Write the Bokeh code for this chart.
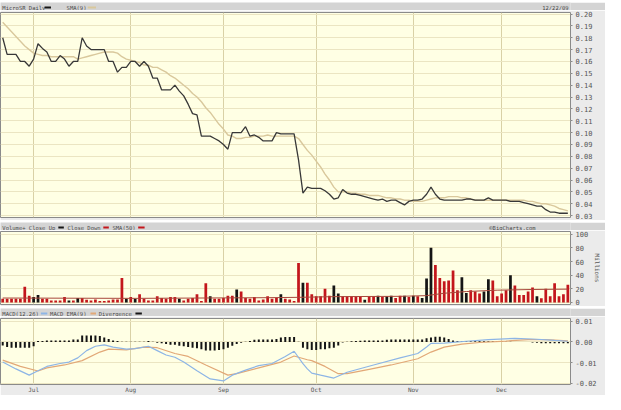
from bokeh.plotting import figure
from bokeh.models import Range1d, FixedTicker, SingleIntervalTicker, NumeralTickFormatter
from bokeh.layouts import column
from bokeh.embed import file_html
from bokeh.resources import INLINE
from bokeh.core.properties import value

# ---------------- data (trading days 22 Jun 2009 .. 22 Dec 2009) ----------------
close = [0.180, 0.166, 0.166, 0.166, 0.160, 0.160, 0.156, 0.162, 0.175, 0.171,
         0.168, 0.160, 0.160, 0.165, 0.162, 0.156, 0.160, 0.160, 0.180, 0.173,
         0.170, 0.170, 0.170, 0.170, 0.160, 0.160, 0.151, 0.155, 0.155, 0.160,
         0.160, 0.156, 0.160, 0.156, 0.146, 0.146, 0.136, 0.136, 0.136, 0.140,
         0.135, 0.131, 0.124, 0.116, 0.115, 0.097, 0.097, 0.097, 0.095, 0.093,
         0.090, 0.086, 0.100, 0.100, 0.100, 0.105, 0.097, 0.098, 0.096, 0.093,
         0.093, 0.093, 0.100, 0.099, 0.099, 0.099, 0.099, 0.077, 0.049, 0.054,
         0.053, 0.053, 0.053, 0.051, 0.048, 0.044, 0.045, 0.052, 0.049, 0.048,
         0.048, 0.047, 0.046, 0.045, 0.044, 0.043, 0.044, 0.042, 0.043, 0.043,
         0.041, 0.039, 0.042, 0.043, 0.043, 0.044, 0.048, 0.054, 0.048, 0.044,
         0.043, 0.043, 0.043, 0.043, 0.043, 0.044, 0.044, 0.043, 0.043, 0.043,
         0.045, 0.043, 0.043, 0.043, 0.043, 0.042, 0.042, 0.042, 0.041, 0.040,
         0.039, 0.038, 0.038, 0.035, 0.033, 0.033, 0.032, 0.032, 0.032]

sma9 = [0.193, 0.189, 0.185, 0.181, 0.177, 0.173, 0.170, 0.167, 0.166, 0.165,
        0.165, 0.164, 0.164, 0.164, 0.164, 0.164, 0.164, 0.162, 0.163, 0.164,
        0.165, 0.166, 0.167, 0.168, 0.168, 0.168, 0.167, 0.164, 0.162, 0.161,
        0.160, 0.159, 0.157, 0.157, 0.155, 0.155, 0.153, 0.151, 0.148, 0.146,
        0.143, 0.140, 0.137, 0.133, 0.130, 0.126, 0.121, 0.117, 0.112, 0.107,
        0.103, 0.098, 0.097, 0.095, 0.095, 0.096, 0.096, 0.097, 0.097, 0.097,
        0.098, 0.097, 0.097, 0.097, 0.097, 0.097, 0.097, 0.095, 0.090, 0.085,
        0.081, 0.076, 0.071, 0.065, 0.060, 0.054, 0.050, 0.050, 0.050, 0.049,
        0.049, 0.048, 0.048, 0.047, 0.047, 0.047, 0.046, 0.045, 0.045, 0.044,
        0.044, 0.043, 0.043, 0.042, 0.042, 0.042, 0.043, 0.044, 0.045, 0.045,
        0.045, 0.046, 0.046, 0.046, 0.045, 0.045, 0.044, 0.043, 0.043, 0.043,
        0.043, 0.043, 0.043, 0.043, 0.043, 0.043, 0.043, 0.043, 0.043, 0.042,
        0.042, 0.041, 0.040, 0.040, 0.039, 0.038, 0.036, 0.035, 0.034]

volume = [5.5, 5.5, 5.5, 5.5, 5.5, 23, 10, 8, 11, 5.5,
          5.5, 3, 3, 3, 8, 3, 3, 6.5, 6.5, 4,
          3, 4.5, 2, 2, 3, 4.5, 4.5, 36, 5.5, 8,
          5.5, 12, 5.5, 3, 3, 9, 6.5, 5.5, 8, 8,
          5.5, 3, 5.5, 6.5, 12, 2, 28, 9, 5.5, 5.5,
          6.5, 10, 10, 19, 16, 6.5, 5.5, 8, 3, 4.5,
          9, 5.5, 6.5, 12, 5.5, 4.5, 2, 58, 29, 29,
          12, 9, 9, 20, 10, 25, 13, 9, 9, 9,
          9, 9, 4, 9, 9, 10, 8, 9, 10, 6.5,
          10, 10, 8, 10, 9, 6.5, 35, 80, 55, 36,
          31, 32, 47, 18, 37, 14, 18, 16, 13, 16,
          34, 32, 9, 13, 18, 40, 25, 11, 11, 16,
          22, 9, 6, 20, 9, 28, 9, 12, 26]

up_days = [7, 8, 15, 17, 28, 30, 40, 47, 53, 63, 68, 75, 76, 82, 85, 87, 88,
           91, 93, 95, 96, 97, 104, 105, 109, 110, 115, 121]

vol_sma_day = [0, 30, 60, 67, 75, 90, 96, 100, 105, 112, 120, 128]
vol_sma50 = [6.5, 6.0, 7.0, 7.5, 8.5, 9.0, 10.0, 13.5, 16.0, 18.0, 19.0, 19.5]

macd_day = [0, 3, 6, 8, 10, 13, 15, 17, 19, 21, 23, 25, 28, 30, 33, 35, 37, 39,
            41, 44, 47, 50, 52, 55, 58, 61, 64, 66, 67, 68, 69, 70, 72, 75, 78,
            84, 90, 94, 96, 97, 100, 105, 110, 116, 120, 125, 128]
macd_line = [-0.0097, -0.0130, -0.0160, -0.0139, -0.0118, -0.0104, -0.0097,
             -0.0077, -0.0042, -0.0021, -0.0014, -0.0025, -0.0035, -0.0032,
             -0.0021, -0.0042, -0.0063, -0.0074, -0.0097, -0.0139, -0.0178,
             -0.0188, -0.0160, -0.0136, -0.0114, -0.0104, -0.0070, -0.0045,
             -0.0075, -0.0105, -0.0130, -0.0150, -0.0160, -0.0174, -0.0146,
             -0.0111, -0.0077, -0.0056, -0.0025, -0.0007, -0.0006, 0.0003,
             0.0011, 0.0017, 0.0014, 0.0007, 0.0003]

signal_day = [0, 4, 8, 10, 14, 18, 22, 24, 28, 32, 35, 39, 42, 46, 51, 53, 58,
              63, 66, 69, 70, 73, 76, 78, 83, 88, 94, 97, 100, 104, 108, 114,
              119, 123, 128]
signal_line = [-0.0088, -0.0118, -0.0140, -0.0125, -0.0111, -0.0090, -0.0049,
               -0.0035, -0.0038, -0.0025, -0.0028, -0.0056, -0.0070, -0.0111,
               -0.0160, -0.0153, -0.0125, -0.0097, -0.0068, -0.0086, -0.0090,
               -0.0118, -0.0153, -0.0153, -0.0132, -0.0111, -0.0081, -0.0049,
               -0.0025, -0.0011, -0.0003, 0.0004, 0.0011, 0.0011, 0.0005]

# divergence in thousandths
divergence = [-1.7, -2.5, -2.8, -2.8, -2.8, -2.8, -2.8, -2.1, 0.4, 0.4,
              0.7, 0.7, 0.7, 0.7, 0.7, 0.7, 1.1, 1.1, 3.1, 3.1,
              3.1, 3.1, 2.8, 2.1, 1.4, 0.7, 0.4, 0.05, 0.05, 0.1,
              0.1, 0.05, 0.1, 0.4, 0.05, -0.4, -0.7, -1.0, -1.4, -1.4,
              -1.8, -2.1, -2.5, -2.8, -3.1, -3.5, -4.2, -4.2, -4.2, -3.9,
              -3.5, -2.8, -1.8, -1.0, -0.4, 0.05, 0.4, 1.0, 1.1, 1.1,
              1.1, 1.1, 1.4, 2.1, 2.4, 2.4, 2.4, 0.05, -2.8, -3.5,
              -3.9, -3.9, -3.5, -3.5, -3.1, -2.8, -1.7, -0.3, 0.05, 0.3,
              0.4, 0.6, 0.7, 0.7, 0.7, 0.7, 0.7, 1.0, 1.1, 1.1,
              1.1, 1.1, 1.1, 1.1, 1.1, 1.1, 1.7, 2.1, 2.5, 2.5,
              2.1, 1.4, 0.7, 0.4, 0.3, 0.3, 0.3, 0.3, 0.3, 0.3,
              0.3, 0.3, 0.3, 0.3, 0.1, 0.1, -0.1, -0.1, -0.1, -0.1,
              -0.3, -0.4, -0.7, -0.7, -0.7, -0.7, -0.7, -0.7, -0.7]

month_starts = [7, 29, 50, 71, 93, 113]
month_labels = ["Jul", "Aug", "Sep", "Oct", "Nov", "Dec"]

# ---------------- style ----------------
MONO = "DejaVu Sans Mono"
BAND = "#d4d4d4"
BORDER = "#ebebeb"
BG = "#ffffe4"
HGRID = "#ebe5c2"
VGRID = "#d9d1a6"
TXT = "#4a4a4a"
RED = "#c3161c"
BLACK = "#151515"
W = 605
FW = 570
RB = 35

days = list(range(len(close)))
xr = Range1d(-0.5, 128.6)


def header(labels, swatches, right=None, right_x=619):
    h = figure(width=W, height=10, x_range=Range1d(0, 621), y_range=Range1d(0, 10),
               x_axis_location=None, y_axis_location=None, toolbar_location=None,
               output_backend="svg", min_border=0, outline_line_color=None,
               background_fill_color=BAND, border_fill_color=BAND)
    h.grid.visible = False
    h.text(x=[l[0] for l in labels], y=[5] * len(labels), text=[l[1] for l in labels],
           text_font=value(MONO), text_font_size="5.5px", text_baseline="middle",
           text_color=TXT)
    for (x0, x1, c) in swatches:
        h.segment(x0=[x0], y0=[5], x1=[x1], y1=[5], line_color=c, line_width=2)
    if right:
        h.text(x=[right_x], y=[5], text=[right], text_font=value(MONO),
               text_font_size="5.5px", text_baseline="middle", text_align="right",
               text_color=TXT)
    return h


def panel(frame_h, yr, top=2, bottom=2, below=False):
    p = figure(frame_width=FW, frame_height=frame_h, x_range=xr, y_range=yr,
               x_axis_location="below" if below else None, y_axis_location="right",
               toolbar_location=None, output_backend="svg",
               min_border_left=0, min_border_right=RB, min_border_top=top,
               min_border_bottom=bottom, background_fill_color=BG,
               border_fill_color=BORDER, outline_line_color="#8a8a8a")
    p.xgrid.ticker = FixedTicker(ticks=month_starts)
    p.xgrid.grid_line_color = VGRID
    p.ygrid.grid_line_color = HGRID
    ax = p.yaxis[0]
    ax.major_label_text_font = MONO
    ax.major_label_text_font_size = "7px"
    ax.major_label_text_color = "#555555"
    ax.major_label_standoff = 3
    ax.axis_line_color = None
    ax.major_tick_in = 0
    ax.major_tick_out = 2
    ax.major_tick_line_color = "#8a8a8a"
    ax.minor_tick_line_color = None
    return p


# header 1 + price
h1 = header([(2, "MicroSR Daily"), (72, "SMA(9)")],
            [(48, 55, BLACK), (95, 104, "#d9c89c")], right="12/22/09")

p1 = panel(205, Range1d(0.0284, 0.2013), top=2, bottom=3)
p1.yaxis[0].ticker = SingleIntervalTicker(interval=0.01, num_minor_ticks=0)
p1.yaxis[0].formatter = NumeralTickFormatter(format="0.00")
p1.line(days, sma9, line_color="#d9c89c", line_width=1.4)
p1.line(days, close, line_color="#383838", line_width=1.3)

# header 2 + volume
h2 = header([(2, "Volume+ Close Up"), (73, "Close Down"), (122, "SMA(50)")],
            [(63, 69, BLACK), (112, 118, RED), (150, 157, RED)],
            right="\u00a9BigCharts.com", right_x=583)

p2 = panel(73, Range1d(-3, 104), top=1, bottom=2)
p2.yaxis[0].ticker = FixedTicker(ticks=[0, 20, 40, 60, 80, 100])
p2.yaxis[0].formatter = NumeralTickFormatter(format="0")
p2.yaxis[0].axis_label = "Millions"
p2.yaxis[0].axis_label_text_font = MONO
p2.yaxis[0].axis_label_text_font_size = "6px"
p2.yaxis[0].axis_label_text_font_style = "normal"
p2.yaxis[0].axis_label_text_color = "#555555"
p2.yaxis[0].axis_label_standoff = 3
up_set = set(up_days)
vol_colors = [BLACK if d in up_set else RED for d in days]
p2.vbar(x=days, top=volume, bottom=0, width=0.62, fill_color=vol_colors,
        line_color=None)
p2.line(vol_sma_day, vol_sma50, line_color="#a8483c", line_width=1)

# header 3 + MACD
h3 = header([(2, "MACD(12,26)"), (54, "MACD EMA(9)"), (107, "Divergence")],
            [(44, 51, "#8db5e6"), (98, 104, "#e2a877"), (147, 154, BLACK)])

p3 = panel(66, Range1d(-0.0205, 0.01125), top=2, bottom=0, below=True)
p3.yaxis[0].ticker = SingleIntervalTicker(interval=0.01, num_minor_ticks=0)
p3.yaxis[0].formatter = NumeralTickFormatter(format="0.00")
xa = p3.xaxis[0]
xa.ticker = FixedTicker(ticks=month_starts)
xa.major_label_overrides = {d: m for d, m in zip(month_starts, month_labels)}
xa.major_label_text_font = MONO
xa.major_label_text_font_size = "6px"
xa.major_label_text_color = "#555555"
xa.major_label_standoff = 1
xa.major_tick_in = 0
xa.major_tick_out = 0
xa.minor_tick_line_color = None
xa.axis_line_color = None
p3.vbar(x=days, top=[d / 1000 for d in divergence], bottom=0, width=0.45,
        fill_color=BLACK, line_color=None)
p3.line(signal_day, signal_line, line_color="#e2a877", line_width=1.2)
p3.line(macd_day, macd_line, line_color="#8db5e6", line_width=1.2)

layout = column(h1, p1, h2, p2, h3, p3, spacing=0)
open("out.html", "w").write(file_html(layout, INLINE))
